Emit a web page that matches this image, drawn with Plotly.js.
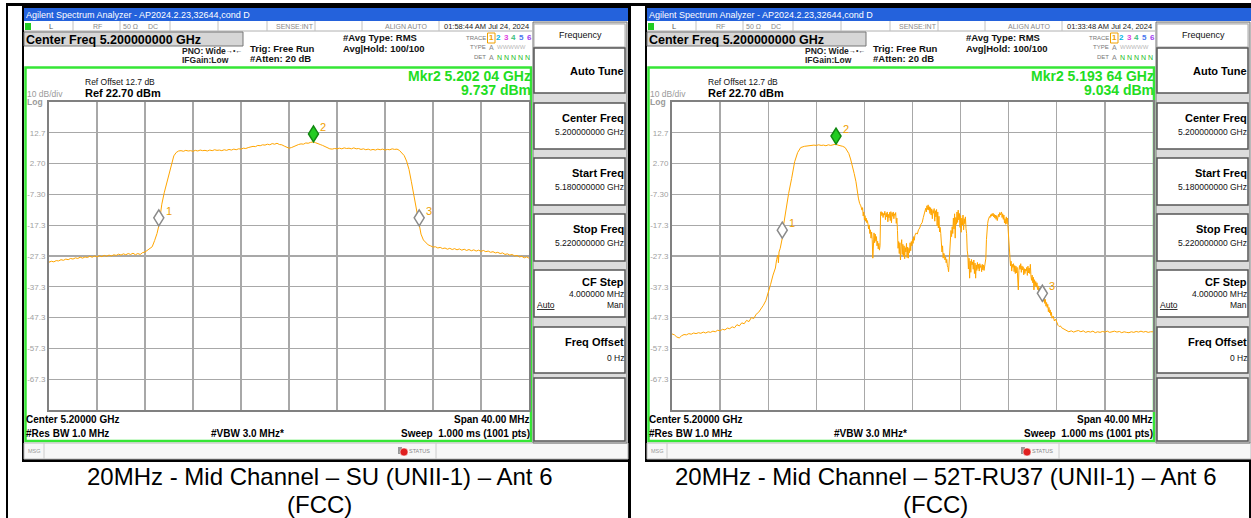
<!DOCTYPE html>
<html><head><meta charset="utf-8">
<script src="https://cdn.plot.ly/plotly-3.0.1.min.js"></script>
<style>html,body{margin:0;padding:0;background:#fff;}#chart{width:1251px;height:518px;}</style>
</head><body><div id="chart"></div>
<script>
// ---------------- DATA ----------------
const yTickVals = [12.7, 2.7, -7.3, -17.3, -27.3, -37.3, -47.3, -57.3, -67.3];
const yTickText = ['12.7', '2.70', '-7.30', '-17.3', '-27.3', '-37.3', '-47.3', '-57.3', '-67.3'];
const freqRangeMHz = [5180, 5220];
const levelRangeDbm = [-77.3, 22.7];

// Left screen: SU trace [MHz, dBm]
const suTrace = [
[5180.0,-29.3],[5180.2,-29.0],[5180.4,-29.2],[5180.6,-28.8],[5180.8,-28.9],[5181.0,-28.5],[5181.2,-28.7],[5181.4,-28.3],[5181.6,-28.5],[5181.8,-28.1],
[5182.0,-28.3],[5182.2,-27.9],[5182.4,-28.1],[5182.6,-27.7],[5182.8,-28.0],[5183.0,-27.6],[5183.2,-27.8],[5183.4,-27.4],[5183.6,-27.7],[5183.8,-27.3],
[5184.0,-27.6],[5184.2,-27.2],[5184.4,-27.5],[5184.6,-27.1],[5184.8,-27.4],[5185.0,-27.0],[5185.2,-27.3],[5185.4,-26.9],[5185.6,-27.1],[5185.8,-26.7],
[5186.0,-27.0],[5186.2,-26.6],[5186.4,-26.9],[5186.6,-26.5],[5186.8,-26.8],[5187.0,-26.4],[5187.2,-26.9],[5187.4,-26.5],[5187.6,-26.8],[5187.8,-26.2],
[5188.0,-26.0],[5188.2,-25.4],[5188.4,-25.0],[5188.6,-24.3],[5188.8,-22.3],[5189.0,-20.0],[5189.15,-17.5],[5189.4,-10.5],[5189.6,-6.8],[5189.8,-4.0],
[5190.0,-0.5],[5190.2,2.5],[5190.4,5.2],[5190.6,6.3],[5190.8,6.8],
[5191.0,6.9],[5191.2,6.7],[5191.4,7.0],[5191.6,6.8],[5191.8,6.9],[5192.0,6.7],[5192.2,7.0],[5192.4,6.8],[5192.6,7.1],[5192.8,6.9],
[5193.0,7.0],[5193.2,6.8],[5193.4,7.1],[5193.6,6.9],[5193.8,7.2],[5194.0,7.0],[5194.2,7.1],[5194.4,6.9],[5194.6,7.2],[5194.8,7.0],
[5195.0,7.3],[5195.2,7.1],[5195.4,7.4],[5195.6,7.2],[5195.8,7.5],[5196.0,7.4],[5196.2,7.7],[5196.4,7.6],[5196.6,7.9],[5196.8,8.1],
[5197.0,8.3],[5197.2,8.2],[5197.4,8.6],[5197.6,8.5],[5197.8,8.8],[5198.0,8.7],[5198.2,9.0],[5198.4,8.8],[5198.6,9.2],[5198.8,9.0],
[5199.0,9.3],[5199.2,8.9],[5199.4,8.8],[5199.6,8.4],[5199.8,8.1],[5200.0,7.7],[5200.2,7.9],[5200.4,8.3],[5200.6,8.7],[5200.8,8.9],
[5201.0,9.1],[5201.2,9.0],[5201.4,9.4],[5201.6,9.3],[5201.8,9.6],[5202.04,9.737],[5202.2,9.5],[5202.4,9.3],[5202.6,8.9],[5202.8,8.6],
[5203.0,8.2],[5203.2,7.9],[5203.4,7.5],[5203.6,7.4],[5203.8,7.6],[5204.0,7.5],[5204.2,7.7],[5204.4,7.5],[5204.6,7.8],[5204.8,7.6],
[5205.0,7.7],[5205.2,7.5],[5205.4,7.8],[5205.6,7.5],[5205.8,7.6],[5206.0,7.3],[5206.2,7.5],[5206.4,7.2],[5206.6,7.4],[5206.8,7.1],
[5207.0,7.3],[5207.2,7.1],[5207.4,7.4],[5207.6,7.2],[5207.8,7.4],[5208.0,7.1],[5208.2,7.3],[5208.4,7.2],[5208.6,7.5],[5208.8,7.3],
[5209.0,7.4],[5209.2,7.0],[5209.4,6.3],[5209.6,5.3],[5209.8,3.5],[5210.0,0.8],[5210.2,-3.2],[5210.4,-7.8],[5210.6,-11.5],[5210.85,-17.5],
[5211.0,-20.2],[5211.2,-22.1],[5211.4,-23.0],[5211.6,-23.7],[5211.8,-24.0],[5212.0,-24.4],[5212.2,-24.3],[5212.4,-24.7],[5212.6,-24.5],[5212.8,-24.9],
[5213.0,-24.7],[5213.2,-25.1],[5213.4,-24.8],[5213.6,-25.2],[5213.8,-24.9],[5214.0,-25.3],[5214.2,-25.0],[5214.4,-25.4],[5214.6,-25.1],[5214.8,-25.5],
[5215.0,-25.2],[5215.2,-25.6],[5215.4,-25.3],[5215.6,-25.7],[5215.8,-25.4],[5216.0,-25.8],[5216.2,-25.5],[5216.4,-25.9],[5216.6,-25.7],[5216.8,-26.1],
[5217.0,-25.9],[5217.2,-26.3],[5217.4,-26.1],[5217.6,-26.5],[5217.8,-26.3],[5218.0,-26.8],[5218.2,-26.6],[5218.4,-27.0],[5218.6,-26.8],[5218.8,-27.3],
[5219.0,-27.1],[5219.2,-27.6],[5219.4,-27.4],[5219.6,-27.9],[5219.8,-27.6],[5220.0,-28.0]
];

// Right screen: 52T-RU37 trace [MHz, dBm]
const ruTrace = [
[5180.0,-52.6],[5180.2,-52.9],[5180.4,-53.6],[5180.6,-53.9],[5180.8,-53.2],[5181.0,-52.8],[5181.2,-52.9],[5181.4,-52.5],[5181.6,-52.7],[5181.8,-52.3],
[5182.0,-52.5],[5182.2,-52.2],[5182.4,-52.4],[5182.6,-52.0],[5182.8,-52.3],[5183.0,-51.9],[5183.2,-52.1],[5183.4,-51.7],[5183.6,-51.9],[5183.8,-51.4],
[5184.0,-51.6],[5184.2,-51.1],[5184.4,-51.3],[5184.6,-50.7],[5184.8,-50.9],[5185.0,-50.3],[5185.2,-50.6],[5185.4,-49.6],[5185.6,-50.0],[5185.8,-49.0],
[5186.0,-49.3],[5186.2,-48.2],[5186.4,-48.6],[5186.6,-47.3],[5186.8,-47.6],[5187.0,-46.2],[5187.2,-45.6],[5187.4,-44.6],[5187.6,-43.3],[5187.8,-41.8],
[5188.0,-39.5],[5188.2,-36.5],[5188.4,-33.5],[5188.6,-31.2],[5188.7,-28.5],[5188.8,-27.0],[5188.85,-29.5],[5188.9,-26.0],[5189.0,-24.8],[5189.1,-22.5],
[5189.17,-21.5],[5189.3,-16.7],[5189.5,-11.3],[5189.7,-7.0],[5189.95,-2.1],[5190.2,3.3],[5190.45,6.3],[5190.7,7.9],[5191.0,8.3],
[5191.2,8.4],[5191.4,8.6],[5191.6,8.5],[5191.8,8.7],[5192.0,8.6],[5192.2,8.8],[5192.4,8.6],[5192.6,8.7],[5192.8,8.5],[5193.0,8.8],
[5193.2,8.6],[5193.4,8.8],[5193.64,9.034],[5193.8,8.7],[5194.0,8.6],[5194.2,8.3],[5194.4,7.9],[5194.6,6.8],[5194.7,6.0],[5194.85,4.2],
[5195.0,2.2],[5195.15,-0.5],[5195.3,-3.2],[5195.4,-6.5],[5195.5,-8.5],[5195.6,-10.2],[5195.7,-11.0],[5195.8,-12.4],[5195.85,-11.6],[5195.9,-14.3],
[5195.95,-13.0],[5196.0,-15.6],[5196.05,-14.2],[5196.1,-16.0],[5196.15,-15.0],[5196.2,-16.5],[5196.25,-15.8],[5196.3,-17.0],[5196.35,-18.5],[5196.4,-17.2],
[5196.45,-20.0],[5196.5,-18.8],[5196.55,-21.5],[5196.6,-19.5],[5196.65,-22.0],[5196.7,-28.0],[5196.75,-20.5],[5196.8,-19.8],[5196.85,-23.0],[5196.9,-20.2],
[5196.95,-22.5],[5197.0,-21.0],[5197.05,-24.0],[5197.1,-22.5],[5197.15,-25.0],[5197.2,-23.2],[5197.25,-25.4],[5197.3,-24.0],[5197.35,-13.0],[5197.4,-12.9],
[5197.45,-14.2],[5197.5,-13.2],[5197.55,-14.8],[5197.6,-13.5],[5197.65,-14.0],[5197.7,-12.8],[5197.75,-15.5],[5197.8,-13.4],[5197.85,-14.6],[5197.9,-13.0],
[5197.95,-16.2],[5198.0,-13.8],[5198.05,-14.9],[5198.1,-13.1],[5198.15,-15.8],[5198.2,-12.9],[5198.25,-16.5],[5198.3,-13.3],[5198.35,-14.4],[5198.4,-13.0],
[5198.45,-15.2],[5198.5,-13.6],[5198.55,-14.1],[5198.6,-13.2],[5198.65,-16.7],[5198.7,-15.0],[5198.75,-19.0],[5198.8,-24.8],[5198.85,-22.6],[5198.9,-26.5],
[5198.95,-23.0],[5199.0,-28.6],[5199.05,-24.2],[5199.1,-22.0],[5199.15,-26.8],[5199.2,-23.5],[5199.25,-27.4],[5199.3,-24.0],[5199.35,-28.2],[5199.4,-24.6],
[5199.45,-26.0],[5199.5,-23.2],[5199.55,-27.8],[5199.6,-24.4],[5199.65,-28.0],[5199.7,-24.8],[5199.75,-26.2],[5199.8,-23.0],[5199.85,-25.6],[5199.9,-22.6],
[5199.95,-24.0],[5200.0,-21.8],[5200.05,-23.2],[5200.1,-21.0],[5200.15,-22.2],[5200.2,-20.6],[5200.3,-19.8],[5200.4,-20.2],[5200.5,-18.8],[5200.6,-18.2],
[5200.7,-17.0],[5200.8,-16.5],[5200.9,-14.8],[5201.0,-13.4],[5201.05,-12.6],[5201.1,-11.8],[5201.15,-13.0],[5201.2,-11.0],[5201.25,-12.2],[5201.3,-10.7],
[5201.35,-12.4],[5201.4,-11.3],[5201.45,-13.5],[5201.5,-11.6],[5201.55,-14.0],[5201.6,-12.0],[5201.65,-15.2],[5201.7,-12.5],[5201.75,-13.4],[5201.8,-11.9],
[5201.85,-16.0],[5201.9,-12.6],[5201.95,-14.6],[5202.0,-12.2],[5202.05,-17.5],[5202.1,-13.0],[5202.15,-18.2],[5202.2,-14.4],[5202.25,-19.5],[5202.3,-18.0],
[5202.35,-20.0],[5202.4,-23.5],[5202.45,-26.0],[5202.5,-24.0],[5202.55,-28.0],[5202.6,-26.4],[5202.65,-27.0],[5202.7,-28.6],[5202.75,-27.6],[5202.8,-29.5],
[5202.85,-28.4],[5202.9,-30.5],[5202.95,-31.0],[5203.0,-32.4],[5203.05,-28.0],[5203.1,-26.0],[5203.15,-20.5],[5203.2,-19.0],[5203.25,-21.0],[5203.3,-17.8],
[5203.35,-20.0],[5203.4,-15.0],[5203.45,-18.5],[5203.5,-13.6],[5203.55,-21.5],[5203.6,-14.8],[5203.65,-17.0],[5203.7,-13.0],[5203.75,-16.4],[5203.8,-12.4],
[5203.85,-15.6],[5203.9,-13.5],[5203.95,-18.0],[5204.0,-14.2],[5204.05,-19.6],[5204.1,-15.0],[5204.15,-17.2],[5204.2,-14.0],[5204.25,-18.8],[5204.3,-15.2],
[5204.35,-16.8],[5204.4,-14.6],[5204.45,-18.4],[5204.5,-20.0],[5204.55,-25.4],[5204.6,-27.0],[5204.65,-31.5],[5204.7,-28.0],[5204.75,-34.5],[5204.8,-29.0],
[5204.85,-32.6],[5204.9,-28.4],[5204.95,-30.2],[5205.0,-29.2],[5205.05,-31.6],[5205.1,-28.6],[5205.15,-33.0],[5205.2,-29.6],[5205.25,-34.5],[5205.3,-30.2],
[5205.35,-32.0],[5205.4,-29.4],[5205.45,-31.4],[5205.5,-30.0],[5205.55,-32.2],[5205.6,-29.8],[5205.65,-31.0],[5205.7,-30.4],[5205.75,-32.4],[5205.8,-30.0],
[5205.85,-31.8],[5205.9,-30.2],[5205.95,-32.0],[5206.0,-30.6],[5206.05,-29.5],[5206.1,-28.0],[5206.15,-22.0],[5206.2,-18.0],[5206.25,-16.7],[5206.3,-15.6],
[5206.35,-15.0],[5206.4,-14.5],[5206.45,-14.8],[5206.5,-13.9],[5206.55,-14.4],[5206.6,-13.6],[5206.65,-14.2],[5206.7,-13.4],[5206.75,-14.6],[5206.8,-13.8],
[5206.85,-15.0],[5206.9,-14.0],[5206.95,-15.4],[5207.0,-14.2],[5207.05,-15.8],[5207.1,-14.4],[5207.15,-13.8],[5207.2,-14.6],[5207.25,-13.2],[5207.3,-14.0],
[5207.35,-13.4],[5207.4,-13.0],[5207.45,-14.8],[5207.5,-13.6],[5207.55,-15.4],[5207.6,-14.0],[5207.65,-16.6],[5207.7,-15.2],[5207.75,-17.0],[5207.8,-14.6],
[5207.85,-16.8],[5207.9,-15.0],[5207.95,-18.5],[5208.0,-22.1],[5208.05,-25.5],[5208.1,-28.6],[5208.15,-30.5],[5208.2,-29.0],[5208.25,-32.2],[5208.3,-30.0],
[5208.35,-31.0],[5208.4,-29.8],[5208.45,-32.4],[5208.5,-30.4],[5208.55,-33.0],[5208.6,-30.6],[5208.65,-32.8],[5208.7,-31.0],[5208.75,-34.0],[5208.8,-38.3],
[5208.85,-32.0],[5208.9,-30.4],[5208.95,-31.6],[5209.0,-29.8],[5209.05,-32.6],[5209.1,-30.5],[5209.15,-31.8],[5209.2,-30.8],[5209.25,-33.4],[5209.3,-31.4],
[5209.35,-33.0],[5209.4,-31.6],[5209.45,-32.2],[5209.5,-31.0],[5209.55,-33.6],[5209.6,-30.6],[5209.65,-32.8],[5209.7,-31.2],[5209.75,-33.0],[5209.8,-30.0],
[5209.85,-33.8],[5209.9,-35.2],[5209.95,-33.5],[5210.0,-36.0],[5210.05,-34.2],[5210.1,-38.3],[5210.15,-35.0],[5210.2,-37.0],[5210.25,-35.6],[5210.3,-37.4],
[5210.35,-36.0],[5210.4,-38.2],[5210.45,-37.0],[5210.5,-39.0],[5210.55,-37.6],[5210.6,-39.4],[5210.65,-38.0],[5210.7,-40.2],[5210.8,-42.0],[5210.85,-40.6],
[5210.9,-42.0],[5210.95,-41.0],[5211.0,-42.7],[5211.05,-41.4],[5211.1,-43.6],[5211.15,-42.4],[5211.2,-44.0],[5211.25,-43.0],[5211.3,-45.4],[5211.35,-44.0],
[5211.4,-45.8],[5211.45,-44.8],[5211.5,-46.6],[5211.55,-45.6],[5211.6,-47.5],[5211.7,-46.8],[5211.8,-48.4],[5211.9,-47.8],[5212.0,-49.2],[5212.1,-49.8],
[5212.2,-50.2],[5212.3,-50.0],[5212.4,-50.6],[5212.5,-50.8],[5212.6,-51.2],[5212.8,-51.5],[5213.0,-51.9],[5213.2,-51.6],[5213.4,-52.0],[5213.6,-51.7],
[5213.8,-51.5],[5214.0,-51.9],[5214.2,-51.6],[5214.4,-52.1],[5214.6,-51.8],[5214.8,-52.0],[5215.0,-51.7],[5215.2,-52.2],[5215.4,-51.9],[5215.6,-52.1],
[5215.8,-51.8],[5216.0,-52.0],[5216.2,-51.7],[5216.4,-52.1],[5216.6,-51.9],[5216.8,-51.7],[5217.0,-52.0],[5217.2,-51.8],[5217.4,-52.2],[5217.6,-51.9],
[5217.8,-52.1],[5218.0,-52.2],[5218.2,-51.9],[5218.4,-52.1],[5218.6,-51.8],[5218.8,-52.0],[5219.0,-51.7],[5219.2,-52.0],[5219.4,-51.8],[5219.6,-52.1],
[5219.8,-51.9],[5220.0,-51.9]
];

// Markers [MHz, dBm, label]
const suMarkers = [[5189.15,-17.5,'1'],[5202.04,9.737,'2'],[5210.85,-17.5,'3']];
const ruMarkers = [[5189.17,-21.5,'1'],[5193.64,9.034,'2'],[5210.8,-42.0,'3']];

// Texts
const screenTitle = 'Agilent Spectrum Analyzer - AP2024.2.23,32644,cond D';
const timeStamps = ['01:58:44 AM Jul 24, 2024', '01:33:48 AM Jul 24, 2024'];
const mkrFreqText = ['Mkr2 5.202 04 GHz', 'Mkr2 5.193 64 GHz'];
const mkrLevelText = ['9.737 dBm', '9.034 dBm'];
const captions = ['20MHz - Mid Channel \u2013 SU (UNII-1) \u2013 Ant 6', '20MHz - Mid Channel \u2013 52T-RU37 (UNII-1) \u2013 Ant 6'];
const softKeys = [['Center Freq','5.200000000 GHz'],['Start Freq','5.180000000 GHz'],['Stop Freq','5.220000000 GHz']];

// ---------------- LAYOUT HELPERS ----------------
const W = 1251, H = 518;
const FONT = 'Liberation Sans, Arial, Helvetica, sans-serif';
const shapes = [], ann = [];
function rect(x0, y0, x1, y1, fill, line, lw) {
  shapes.push({type:'rect', xref:'paper', yref:'paper', x0:x0/W, x1:x1/W, y0:1-y1/H, y1:1-y0/H,
    fillcolor: fill || 'rgba(0,0,0,0)', line:{color: line || 'rgba(0,0,0,0)', width: lw || 0}, layer:'below'});
}
function seg(x0, y0, x1, y1, color, lw) {
  shapes.push({type:'line', xref:'paper', yref:'paper', x0:x0/W, x1:x1/W, y0:1-y0/H, y1:1-y1/H,
    line:{color:color, width:lw}, layer:'below'});
}
function txt(x, y, s, size, color, xa, bold) {
  ann.push({xref:'paper', yref:'paper', x:x/W, y:1-y/H, text: bold ? '<b>'+s+'</b>' : s, showarrow:false,
    xanchor: xa || 'left', yanchor:'middle', font:{size:size, color: color || '#000', family:FONT},
    borderpad:0, borderwidth:0});
}

// table frame
seg(6, 4.5, 1251, 4.5, '#000', 3);
seg(7, 3, 7, 518, '#000', 2);
seg(629.5, 3, 629.5, 518, '#000', 3);
seg(1250, 3, 1250, 518, '#000', 2);

const traceColors = ['#f0a000','#00b4e6','#e040e0','#40c080','#4c78f0','#a040f0'];

[0, 623].forEach((ox, i) => {
  rect(22+ox, 5, Math.min(631+ox, 1251), 462, '#000');
  rect(24+ox, 8, 628+ox, 21, '#2462dc');
  rect(24+ox, 21, 628+ox, 459, '#ffffff');
  txt(26+ox, 14.5, screenTitle, 9, '#ffffff', 'left');
  // status row
  seg(24+ox, 31, 532+ox, 31, '#b0b0b0', 1);
  [73,120,170,218,267,315,362,439].forEach(x => seg(x+ox, 21, x+ox, 31, '#c0c0c0', 1));
  rect(25+ox, 23, 31+ox, 30, '#22cc22');
  txt(49+ox, 26.5, 'L', 7.5, '#555', 'left');
  txt(97+ox, 26.5, 'RF', 7, '#888', 'center');
  txt(130+ox, 26.5, '50 \u03a9', 7, '#888', 'center');
  txt(153+ox, 26.5, 'DC', 7, '#888', 'center');
  txt(295+ox, 26.5, 'SENSE:INT', 7, '#888', 'center');
  txt(406+ox, 26.5, 'ALIGN AUTO', 7, '#888', 'center');
  txt(486+ox, 26.5, timeStamps[i], 7.5, '#222', 'center');
  // header
  rect(24+ox, 32, 243+ox, 46, '#d6d6d6', '#777', 1);
  txt(26+ox, 39.5, 'Center Freq 5.200000000 GHz', 12.5, '#000', 'left', true);
  txt(182+ox, 51, 'PNO: Wide', 8.5, '#222', 'left', true);
  txt(226+ox, 50.5, '\u2192\u2022\u2190', 7, '#222', 'left');
  txt(182+ox, 60, 'IFGain:Low', 8.5, '#222', 'left', true);
  txt(250+ox, 48, 'Trig: Free Run', 9.5, '#111', 'left', true);
  txt(250+ox, 58, '#Atten: 20 dB', 9.5, '#111', 'left', true);
  txt(343+ox, 38, '#Avg Type: RMS', 9.5, '#111', 'left', true);
  txt(343+ox, 48, 'Avg|Hold: 100/100', 9.5, '#111', 'left', true);
  txt(486+ox, 38, 'TRACE', 6, '#777', 'right');
  txt(486+ox, 47.5, 'TYPE', 6, '#777', 'right');
  txt(486+ox, 57, 'DET', 6, '#777', 'right');
  rect(487.5+ox, 33, 495+ox, 43, null, '#f0a000', 1);
  traceColors.forEach((c, k) => txt(491+ox+k*7.6, 38, String(k+1), 8, c, 'center', true));
  txt(491+ox, 47.5, 'A', 7, '#888', 'center');
  txt(497+ox, 47.5, 'WWWWW', 6, '#b8b8b8', 'left');
  txt(491+ox, 57, 'A', 7, '#888', 'center');
  txt(497+ox, 57, 'N N N N N', 7, '#22bb22', 'left');
  // green graticule frame
  rect(25.5+ox, 67.5, 531+ox, 441, null, '#36e636', 2.5);
  txt(85+ox, 82, 'Ref Offset 12.7 dB', 8.5, '#111', 'left');
  txt(85+ox, 93, 'Ref 22.70 dBm', 11, '#000', 'left', true);
  txt(27+ox, 94, '10 dB/div', 8.5, '#9a9a9a', 'left');
  txt(27+ox, 101.5, 'Log', 8.5, '#9a9a9a', 'left', true);
  txt(531+ox, 76, mkrFreqText[i], 14, '#22dd22', 'right', true);
  txt(531+ox, 90, mkrLevelText[i], 14, '#22dd22', 'right', true);
  txt(26+ox, 419, 'Center 5.20000 GHz', 10, '#000', 'left', true);
  txt(530+ox, 419, 'Span 40.00 MHz', 10, '#000', 'right', true);
  txt(26+ox, 433, '#Res BW 1.0 MHz', 10, '#000', 'left', true);
  txt(247+ox, 433, '#VBW 3.0 MHz*', 10, '#000', 'center', true);
  txt(530+ox, 433, 'Sweep  1.000 ms (1001 pts)', 10, '#000', 'right', true);
  // msg bar
  rect(24+ox, 443, 628+ox, 459, '#f7f7f7', '#bbbbbb', 1);
  seg(44+ox, 443, 44+ox, 459, '#cccccc', 1);
  seg(436+ox, 443, 436+ox, 459, '#cccccc', 1);
  txt(28+ox, 451, 'MSG', 5.5, '#999', 'left');
  rect(398+ox, 447, 402+ox, 454, '#999');
  shapes.push({type:'circle', xref:'paper', yref:'paper', x0:(400+ox)/W, x1:(408+ox)/W, y0:1-456/H, y1:1-448/H,
    fillcolor:'#e02020', line:{color:'#ffffff', width:0.5}, layer:'below'});
  txt(409+ox, 451, 'STATUS', 5.5, '#888', 'left');
  // softkeys
  rect(533+ox, 22, 627+ox, 443, '#dcdcdc', '#777', 1);
  rect(534+ox, 24, 625+ox, 47, '#ffffff', '#aaa', 1);
  txt(580+ox, 35, 'Frequency', 9, '#111', 'center');
  const btns = [[48,93],[103,149],[158,205],[214,261],[270,317],[327,373],[378,441]];
  btns.forEach(b => rect(534+ox, b[0], 625+ox, b[1], '#ffffff', '#555', 1.5));
  txt(624+ox, 71, 'Auto Tune', 11, '#000', 'right', true);
  softKeys.forEach((k, j) => {
    const b = btns[j+1];
    txt(624+ox, b[0]+15, k[0], 11, '#000', 'right', true);
    txt(624+ox, b[0]+29, k[1], 8.5, '#111', 'right');
  });
  txt(624+ox, 282, 'CF Step', 11, '#000', 'right', true);
  txt(624+ox, 294, '4.000000 MHz', 8.5, '#111', 'right');
  txt(537+ox, 305, '<u>Auto</u>', 8.5, '#111', 'left');
  txt(624+ox, 305, 'Man', 8.5, '#111', 'right');
  txt(624+ox, 342, 'Freq Offset', 11, '#000', 'right', true);
  txt(624+ox, 358, '0 Hz', 8.5, '#111', 'right');
});

// captions
txt(320, 476, captions[0], 24, '#000', 'center');
txt(319, 504, '(FCC)', 24, '#000', 'center');
txt(946, 476, captions[1], 24, '#000', 'center');
txt(935, 504, '(FCC)', 24, '#000', 'center');

// ---------------- AXES & TRACES ----------------
function xAx(x0, x1) {
  return {domain:[x0/W, x1/W], range:freqRangeMHz, dtick:4, tick0:5180, showticklabels:false, ticks:'',
    showgrid:true, gridcolor:'#a8a8a8', gridwidth:1.3, zeroline:false, showline:true, linecolor:'#808080',
    linewidth:2, mirror:true, fixedrange:true};
}
function yAx(anchor) {
  return {domain:[1-410/H, 1-102/H], range:levelRangeDbm, tickmode:'array', tickvals:yTickVals, ticktext:yTickText,
    tickfont:{size:8, color:'#a0a0a0', family:FONT}, ticks:'', showgrid:true, gridcolor:'#a8a8a8', gridwidth:1.3,
    zeroline:false, showline:true, linecolor:'#808080', linewidth:2, mirror:true, anchor:anchor, fixedrange:true};
}

const traces = [
  {x: suTrace.map(p=>p[0]), y: suTrace.map(p=>p[1]), xaxis:'x', yaxis:'y', type:'scatter', mode:'lines',
   line:{color:'#ffa500', width:1}, hoverinfo:'skip'},
  {x: ruTrace.map(p=>p[0]), y: ruTrace.map(p=>p[1]), xaxis:'x2', yaxis:'y2', type:'scatter', mode:'lines',
   line:{color:'#ffa500', width:1}, hoverinfo:'skip'}
];

function addMarkers(list, xr, yr) {
  list.forEach(m => {
    const active = m[2] === '2';
    shapes.push({type:'path', xref:xr, yref:yr, xsizemode:'pixel', ysizemode:'pixel', xanchor:m[0], yanchor:m[1],
      path:'M0,0 L5,8 L0,16 L-5,8 Z', fillcolor: active ? '#22cc22' : '#ffffff',
      line:{color: active ? '#118811' : '#8a8a8a', width:1.5}, layer:'above'});
    ann.push({xref:xr, yref:yr, x:m[0], y:m[1], text:m[2], showarrow:false, xanchor:'left', yanchor:'middle',
      xshift:6, yshift:15, font:{size:11, color:'#f0a000', family:FONT}, borderpad:0});
  });
}
addMarkers(suMarkers, 'x', 'y');
addMarkers(ruMarkers, 'x2', 'y2');

const layout = {
  width:W, height:H, margin:{l:0, r:0, t:0, b:0}, paper_bgcolor:'#ffffff', plot_bgcolor:'#ffffff',
  showlegend:false, font:{family:FONT},
  xaxis: xAx(49, 529), yaxis: yAx('x'),
  xaxis2: xAx(672, 1153), yaxis2: yAx('x2'),
  shapes: shapes, annotations: ann
};
Plotly.newPlot('chart', traces, layout, {staticPlot:true, displayModeBar:false});
</script>
</body></html>
